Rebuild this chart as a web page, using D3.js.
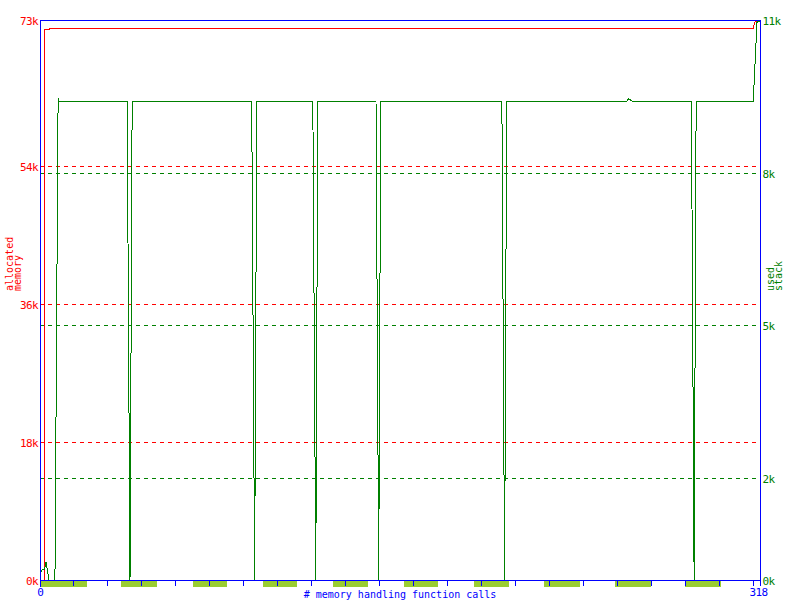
<!DOCTYPE html>
<html><head><meta charset="utf-8">
<script src="https://cdn.jsdelivr.net/npm/d3@7"></script>
<style>body{margin:0;background:#fff}svg{display:block}</style>
</head><body>
<svg id="c" width="800" height="600"></svg>
<script>
// ---- data ----
const totalCalls = 318;
const heapMax = 73000;
const stackMax = 11000;
const heapTicks = [0, 18000, 36000, 54000, 73000];
const heapTickLabels = ["0k", "18k", "36k", "54k", "73k"];
const stackTicks = [0, 2000, 5000, 8000, 11000];
const stackTickLabels = ["0k", "2k", "5k", "8k", "11k"];
const heapGrid = [18000, 36000, 54000];
const stackGrid = [2000, 5000, 8000];
const xTickValues = [15,30,45,60,75,90,105,120,135,150,165,180,195,210,225,240,255,270,285,300,315];
const xEndLabels = ["0", "318"];

// allocated memory (heap) series: call index -> bytes
const heapCalls  = [0, 2, 2, 4, 4.2, 315, 315.5, 316, 318];
const heapValues = [0, 0, 71830, 71830, 71960, 71960, 72610, 72900, 72900];

// used stack series: call index -> bytes
const stackCalls  = [0, 1, 2, 2.6, 3.4, 4, 6.6, 8, 8.5,
  38.5, 39.75, 40.7,
  93.5, 94.8, 95.75,
  120.5, 121.8, 122.7,
  148.4, 149.6, 150.5,
  204, 205.2, 206.1,
  259, 260, 261, 262,
  287.7, 288.9, 289.8,
  315, 316.7, 318];
const stackValues = [140, 216, 216, 369, 173, 0, 0, 9470, 9410,
  9410, 0, 9410,
  9410, 0, 9410,
  9410, 0, 9410,
  9410, 0, 9410,
  9410, 0, 9410,
  9410, 9465, 9430, 9410,
  9410, 0, 9410,
  9410, 10980, 10980];

// time bands drawn under the x axis (call index ranges)
const bandStart = [0, 35.8, 67.6, 98.9, 129.8, 160.8, 191.7, 222.6, 254.0, 284.9];
const bandEnd   = [20.8, 51.7, 82.6, 113.9, 144.9, 175.8, 207.2, 238.9, 269.9, 300.8];

// ---- drawing ----
const RED = "#ff0000", GREEN = "#008000", BLUE = "#0000ff", BAND = "#9acd32";
const svg = d3.select("#c");
const x = d3.scaleLinear().domain([0, totalCalls]).range([40, 760]);
const yL = d3.scaleLinear().domain([0, heapMax]).range([580.5, 20.5]);
const yR = d3.scaleLinear().domain([0, stackMax]).range([580.5, 20.5]);

// bands
svg.append("g").selectAll("rect").data(bandStart).join("rect")
  .attr("x", (d) => Math.floor(x(d)))
  .attr("width", (d, i) => Math.floor(x(bandEnd[i])) - Math.floor(x(d)))
  .attr("y", 581).attr("height", 6)
  .attr("fill", BAND).attr("shape-rendering", "crispEdges");

// x ticks via d3 axis
const xAxisScale = d3.scaleLinear().domain([0, totalCalls]).range([39.5, 759.5]);
const gx = svg.append("g").attr("transform", "translate(0,580)")
  .call(d3.axisBottom(xAxisScale).tickValues(xTickValues).tickSizeInner(6).tickSizeOuter(0).tickFormat(""));
gx.select(".domain").remove();
gx.selectAll("line").attr("stroke", BLUE).attr("shape-rendering", "crispEdges");

// dashed grid lines
svg.append("g").selectAll("line").data(heapGrid).join("line")
  .attr("x1", 40).attr("x2", 760)
  .attr("y1", (d) => yL(d)).attr("y2", (d) => yL(d))
  .attr("stroke", RED).attr("stroke-dasharray", "4,4").attr("shape-rendering", "crispEdges");
svg.append("g").selectAll("line").data(stackGrid).join("line")
  .attr("x1", 40).attr("x2", 760)
  .attr("y1", (d) => yR(d)).attr("y2", (d) => yR(d))
  .attr("stroke", GREEN).attr("stroke-dasharray", "4,4").attr("shape-rendering", "crispEdges");

// series lines
const heapLine = d3.line().x((d, i) => x(heapCalls[i])).y((d, i) => yL(heapValues[i]));
svg.append("path").attr("d", heapLine(heapCalls))
  .attr("fill", "none").attr("stroke", RED).attr("stroke-width", 1).attr("shape-rendering", "crispEdges");
const stackLine = d3.line().x((d, i) => x(stackCalls[i])).y((d, i) => yR(stackValues[i]));
svg.append("path").attr("d", stackLine(stackCalls))
  .attr("fill", "none").attr("stroke", GREEN).attr("stroke-width", 1).attr("shape-rendering", "crispEdges");

// frame
const frame = svg.append("g").attr("stroke", BLUE).attr("shape-rendering", "crispEdges");
frame.append("line").attr("x1", 40).attr("x2", 761).attr("y1", 20.5).attr("y2", 20.5);
frame.append("line").attr("x1", 40).attr("x2", 761).attr("y1", 580.5).attr("y2", 580.5);
frame.append("line").attr("x1", 40.5).attr("x2", 40.5).attr("y1", 20).attr("y2", 587);
frame.append("line").attr("x1", 760.5).attr("x2", 760.5).attr("y1", 20).attr("y2", 586);

// tick labels
const mono = "'DejaVu Sans Mono', monospace";
svg.append("g").selectAll("text").data(heapTicks).join("text")
  .attr("x", 38).attr("y", (d) => yL(d) + 4.5)
  .attr("text-anchor", "end").attr("fill", RED)
  .attr("font-family", mono).attr("font-size", 11).attr("letter-spacing", -0.6)
  .text((d, i) => heapTickLabels[i]);
svg.append("g").selectAll("text").data(stackTicks).join("text")
  .attr("x", 762.5).attr("y", (d) => yR(d) + 4.5)
  .attr("text-anchor", "start").attr("fill", GREEN)
  .attr("font-family", mono).attr("font-size", 11).attr("letter-spacing", -0.6)
  .text((d, i) => stackTickLabels[i]);
svg.append("text").attr("x", 40.5).attr("y", 596).attr("text-anchor", "middle")
  .attr("fill", BLUE).attr("font-family", mono).attr("font-size", 11).text(xEndLabels[0]);
svg.append("text").attr("x", 758.5).attr("y", 596).attr("text-anchor", "middle")
  .attr("fill", BLUE).attr("font-family", mono).attr("font-size", 11).attr("letter-spacing", -0.6).text(xEndLabels[1]);

// axis titles
svg.append("text").attr("x", 400).attr("y", 598).attr("text-anchor", "middle")
  .attr("fill", BLUE).attr("font-family", mono).attr("font-size", 10)
  .text("# memory handling function calls");
const rot = (tx, ty, str, col) => svg.append("text")
  .attr("transform", `translate(${tx},${ty}) rotate(-90)`)
  .attr("fill", col).attr("font-family", mono).attr("font-size", 10).text(str);
rot(13, 291, "allocated", RED);
rot(21, 291, "memory", RED);
rot(773.5, 291, "used", GREEN);
rot(782, 291, "stack", GREEN);
</script>
</body></html>
